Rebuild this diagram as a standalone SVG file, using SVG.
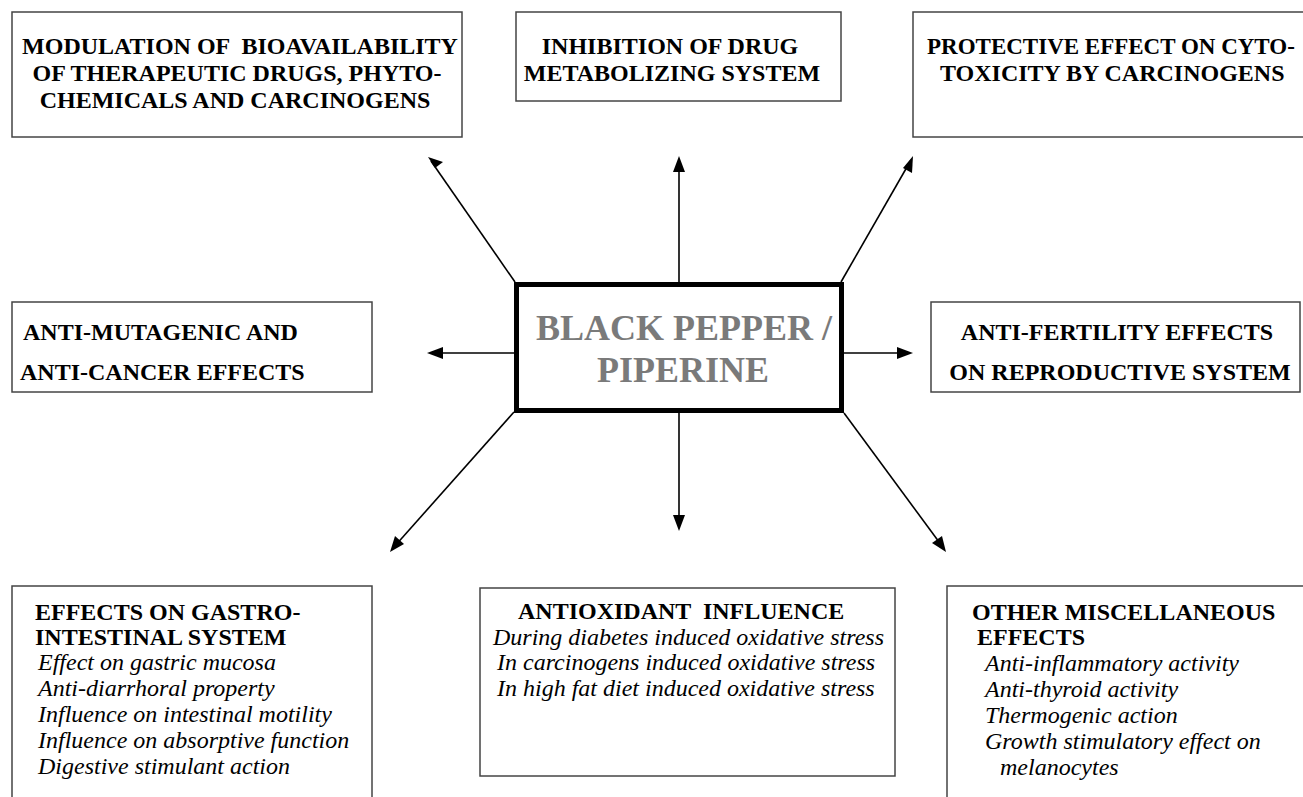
<svg xmlns="http://www.w3.org/2000/svg" width="1303" height="797" viewBox="0 0 1303 797">
<style>
.box{fill:#fff;stroke:#444;stroke-width:1.5}
text{font-family:'Liberation Serif','Times New Roman',serif}
.h{font-weight:700;font-size:24px;fill:#000}
.i{font-style:italic;font-size:24px;fill:#000}
.c{font-weight:700;font-size:36px;fill:#7a7a7a}
.ar{stroke:#000;stroke-width:1.6}
</style>
<rect width="1303" height="797" fill="#fff"/>
<g id="connectors">
<line class="ar" x1="515" y1="282" x2="431" y2="161"/>
<path d="M428,157 l15,5 l-8,6 z" fill="#000"/>
<line class="ar" x1="679" y1="282" x2="679" y2="160"/>
<path d="M679,156 l-6,16 l12,0 z" fill="#000"/>
<line class="ar" x1="841" y1="282" x2="911" y2="160"/>
<path d="M913,156 l-1,17 l-9,-5 z" fill="#000"/>
<line class="ar" x1="514" y1="353" x2="432" y2="353"/>
<path d="M427,353 l16,-6 l0,12 z" fill="#000"/>
<line class="ar" x1="844" y1="353" x2="908" y2="353"/>
<path d="M913,353 l-16,-6 l0,12 z" fill="#000"/>
<line class="ar" x1="514" y1="412" x2="394" y2="547"/>
<path d="M390,552 l5,-16 l9,8 z" fill="#000"/>
<line class="ar" x1="679" y1="412" x2="679" y2="526"/>
<path d="M679,531 l-6,-16 l12,0 z" fill="#000"/>
<line class="ar" x1="844" y1="413" x2="942" y2="546"/>
<path d="M946,552 l-14,-9 l10,-7 z" fill="#000"/>
</g>
<g id="center">
<rect x="516.5" y="284.5" width="325" height="126" fill="#fff" stroke="#000" stroke-width="5"/>
<text class="c" x="684" y="340" text-anchor="middle">BLACK PEPPER /</text>
<text class="c" x="683" y="382" text-anchor="middle">PIPERINE</text>
</g>
<g id="bioavailability">
<rect class="box" x="12" y="12" width="450" height="125"/>
<text class="h" x="240" y="54" text-anchor="middle" xml:space="preserve">MODULATION OF  BIOAVAILABILITY</text>
<text class="h" x="237" y="81" text-anchor="middle">OF THERAPEUTIC DRUGS, PHYTO-</text>
<text class="h" x="235" y="108" text-anchor="middle">CHEMICALS AND CARCINOGENS</text>
</g>
<g id="inhibition">
<rect class="box" x="516" y="12" width="325" height="89"/>
<text class="h" x="670" y="54" text-anchor="middle">INHIBITION OF DRUG</text>
<text class="h" x="672" y="81" text-anchor="middle">METABOLIZING SYSTEM</text>
</g>
<g id="protective">
<rect class="box" x="913" y="12" width="400" height="125"/>
<text class="h" x="927" y="54" style="font-size:23px">PROTECTIVE EFFECT ON CYTO-</text>
<text class="h" x="940" y="81">TOXICITY BY CARCINOGENS</text>
</g>
<g id="antimutagenic">
<rect class="box" x="12" y="302" width="360" height="90"/>
<text class="h" x="23" y="340">ANTI-MUTAGENIC AND</text>
<text class="h" x="20" y="380">ANTI-CANCER EFFECTS</text>
</g>
<g id="antifertility">
<rect class="box" x="931" y="302" width="369" height="90"/>
<text class="h" x="1117" y="340" text-anchor="middle">ANTI-FERTILITY EFFECTS</text>
<text class="h" x="1120" y="380" text-anchor="middle">ON REPRODUCTIVE SYSTEM</text>
</g>
<g id="gastro">
<rect class="box" x="12" y="586" width="360" height="230"/>
<text class="h" x="35" y="620">EFFECTS ON GASTRO-</text>
<text class="h" x="35" y="645">INTESTINAL SYSTEM</text>
<text class="i" x="38" y="670">Effect on gastric mucosa</text>
<text class="i" x="38" y="696">Anti-diarrhoral property</text>
<text class="i" x="38" y="722">Influence on intestinal motility</text>
<text class="i" x="38" y="748">Influence on absorptive function</text>
<text class="i" x="38" y="774">Digestive stimulant action</text>
</g>
<g id="antioxidant">
<rect class="box" x="480" y="588" width="415" height="188"/>
<text class="h" x="518" y="619" xml:space="preserve">ANTIOXIDANT  INFLUENCE</text>
<text class="i" x="493" y="645">During diabetes induced oxidative stress</text>
<text class="i" x="497" y="670">In carcinogens induced oxidative stress</text>
<text class="i" x="497" y="696">In high fat diet induced oxidative stress</text>
</g>
<g id="miscellaneous">
<rect class="box" x="947" y="586" width="400" height="230"/>
<text class="h" x="972" y="620">OTHER MISCELLANEOUS</text>
<text class="h" x="977" y="645">EFFECTS</text>
<text class="i" x="985" y="671">Anti-inflammatory activity</text>
<text class="i" x="985" y="697">Anti-thyroid activity</text>
<text class="i" x="985" y="723">Thermogenic action</text>
<text class="i" x="985" y="749">Growth stimulatory effect on</text>
<text class="i" x="1000" y="775">melanocytes</text>
</g>
</svg>
